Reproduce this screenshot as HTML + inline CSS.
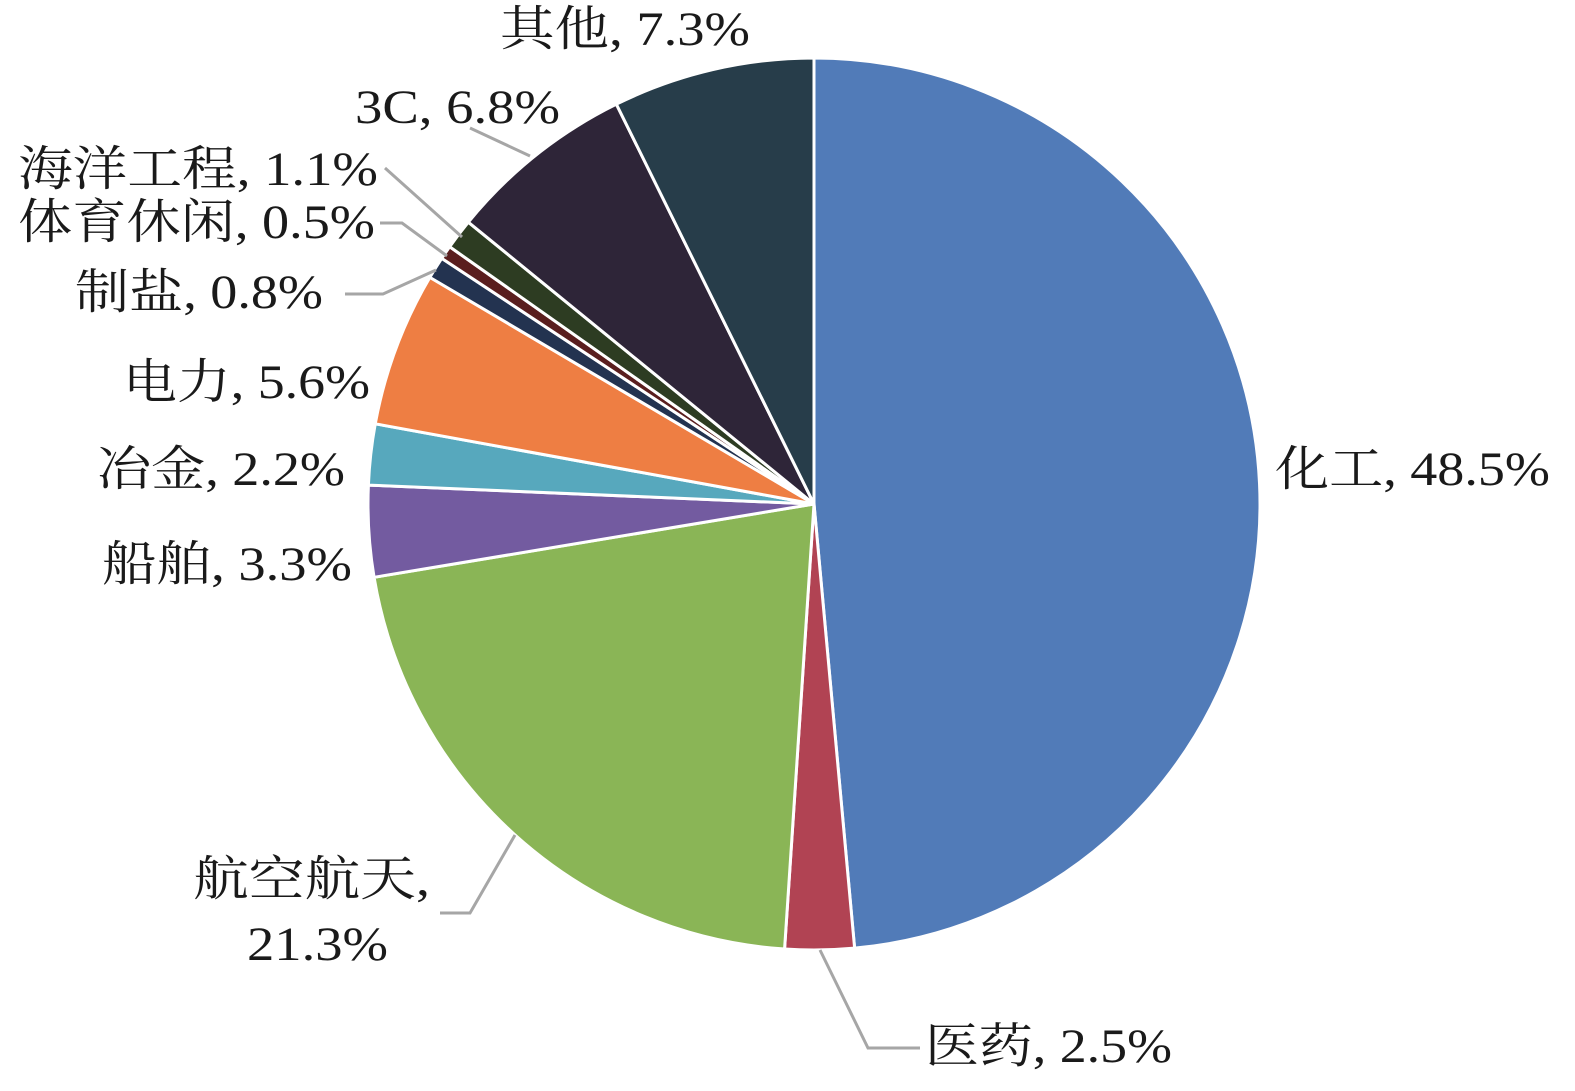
<!DOCTYPE html>
<html><head><meta charset="utf-8"><style>
html,body{margin:0;padding:0;background:#fff;}
svg text{font-family:"Liberation Serif","Times New Roman","Noto Serif CJK SC",serif;font-size:48px;fill:#1a1a1a;}
</style></head><body>
<svg id="s" width="1575" height="1086" viewBox="0 0 1575 1086" xmlns="http://www.w3.org/2000/svg">
<g id="pie"></g>
<g stroke="#a6a6a6" stroke-width="3" fill="none">
<polyline points="470,128 530,156"/>
<polyline points="385,168 462,237"/>
<polyline points="380,223 402,223 447,256"/>
<polyline points="345,294 383,294 436,270"/>
<polyline points="440,913 470,913 515,835"/>
<polyline points="920,1048 868,1048 820,950"/>
</g>
<text x="500" y="45" textLength="250" lengthAdjust="spacingAndGlyphs">其他, 7.3%</text>
<text x="355" y="123" textLength="205" lengthAdjust="spacingAndGlyphs">3C, 6.8%</text>
<text x="18" y="185" textLength="360" lengthAdjust="spacingAndGlyphs">海洋工程, 1.1%</text>
<text x="18" y="238" textLength="357" lengthAdjust="spacingAndGlyphs">体育休闲, 0.5%</text>
<text x="75" y="308" textLength="248" lengthAdjust="spacingAndGlyphs">制盐, 0.8%</text>
<text x="123" y="398" textLength="247" lengthAdjust="spacingAndGlyphs">电力, 5.6%</text>
<text x="97" y="485" textLength="248" lengthAdjust="spacingAndGlyphs">冶金, 2.2%</text>
<text x="1275" y="485" textLength="275" lengthAdjust="spacingAndGlyphs">化工, 48.5%</text>
<text x="102" y="580" textLength="250" lengthAdjust="spacingAndGlyphs">船舶, 3.3%</text>
<text x="193" y="895" textLength="237" lengthAdjust="spacingAndGlyphs">航空航天,</text>
<text x="247" y="960" textLength="141" lengthAdjust="spacingAndGlyphs">21.3%</text>
<text x="925" y="1062" textLength="247" lengthAdjust="spacingAndGlyphs">医药, 2.5%</text>
</svg>
<script>
var d=[[48.5,"#517bb8"],[2.5,"#b14353"],[21.3,"#8ab556"],[3.3,"#735ba0"],[2.2,"#57a8bd"],[5.6,"#ee7e43"],[0.8,"#233350"],[0.5,"#5a1e1e"],[1.1,"#2d3c22"],[6.8,"#2e2538"],[7.3,"#273d4a"]];
var tot=0;d.forEach(function(x){tot+=x[0];});
var cx=814,cy=504,r=446,a=0,g=document.getElementById("pie"),h="";
d.forEach(function(x){
 var a2=a+x[0]/tot*2*Math.PI;
 var x1=cx+r*Math.sin(a),y1=cy-r*Math.cos(a),x2=cx+r*Math.sin(a2),y2=cy-r*Math.cos(a2);
 var lg=(a2-a)>Math.PI?1:0;
 h+='<path d="M'+cx+','+cy+' L'+x1+','+y1+' A'+r+','+r+' 0 '+lg+' 1 '+x2+','+y2+' Z" fill="'+x[1]+'" stroke="#fff" stroke-width="3" stroke-linejoin="round"/>';
 a=a2;
});
g.innerHTML=h;
</script>
</body></html>
